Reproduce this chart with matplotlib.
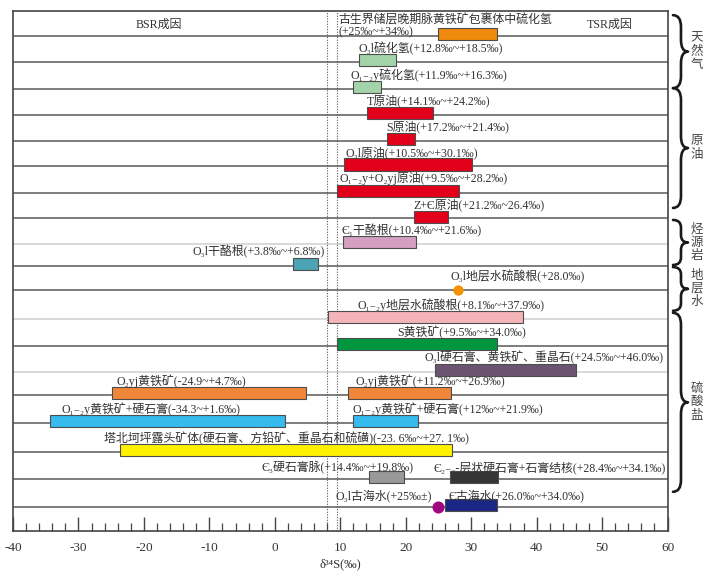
import matplotlib.pyplot as plt
import numpy as np
from matplotlib.path import Path
from matplotlib.patches import PathPatch
from matplotlib.ticker import MultipleLocator

plt.rcParams['font.family'] = ['Liberation Serif', 'DejaVu Serif', 'Noto Sans CJK SC']

# ---- data ----
labels = [
    '古生界储层晚期脉黄铁矿包裹体中硫化氢\n(+25‰~+34‰)',
    'O₃l硫化氢(+12.8‰~+18.5‰)',
    'O₁₋₂y硫化氢(+11.9‰~+16.3‰)',
    'T原油(+14.1‰~+24.2‰)',
    'S原油(+17.2‰~+21.4‰)',
    'O₃l原油(+10.5‰~+30.1‰)',
    'O₁₋₂y+O₂yj原油(+9.5‰~+28.2‰)',
    'Z+Є原油(+21.2‰~26.4‰)',
    'Є₁干酪根(+10.4‰~+21.6‰)',
    'O₃l干酪根(+3.8‰~+6.8‰)',
    'O₃l地层水硫酸根(+28.0‰)',
    'O₁₋₂y地层水硫酸根(+8.1‰~+37.9‰)',
    'S黄铁矿(+9.5‰~+34.0‰)',
    'O₃l硬石膏、黄铁矿、重晶石(+24.5‰~+46.0‰)',
    'O₂yj黄铁矿(-24.9~+4.7‰)',
    'O₂yj黄铁矿(+11.2‰~+26.9‰)',
    'O₁₋₂y黄铁矿+硬石膏(-34.3~+1.6‰)',
    'O₁₋₂y黄铁矿+硬石膏(+12‰~+21.9‰)',
    '塔北坷坪露头矿体(硬石膏、方铅矿、重晶石和硫磺)(-23. 6‰~+27. 1‰)',
    'Є₃硬石膏脉(+14.4‰~+19.8‰)',
    'Є₂₋₃-层状硬石膏+石膏结核(+28.4‰~+34.1‰)',
    'O₃l古海水(+25‰±)',
    'Є古海水(+26.0‰~+34.0‰)',
]
lo = [25, 12.8, 11.9, 14.1, 17.2, 10.5, 9.5, 21.2, 10.4, 2.8, 28.0, 8.1, 9.5,
      24.5, -24.9, 11.2, -34.3, 12, -23.6, 14.4, 26.7, 25.0, 26.0]
hi = [34, 18.5, 16.3, 24.2, 21.4, 30.1, 28.2, 26.4, 21.6, 6.6, 28.0, 37.9, 34.0,
      46.0, 4.7, 26.9, 1.6, 21.9, 27.1, 19.8, 34.1, 25.0, 34.0]
row = [0, 1, 2, 3, 4, 5, 6, 7, 8, 9, 10, 11, 12, 13, 14, 14, 15, 15, 16, 17, 17, 18, 18]
is_dot = [False] * 23
is_dot[10] = True
is_dot[21] = True
colors = ['#f08a0c', '#a3d4a9', '#a3d4a9', '#e3001b', '#e3001b', '#e3001b', '#e3001b',
          '#e3001b', '#d49fc0', '#4ba4b4', '#f39200', '#f5b4b8', '#00963f', '#6b5470',
          '#ef8638', '#ef8638', '#35bbed', '#35bbed', '#fff100', '#999999', '#353535',
          '#a0067f', '#1b2785']

groups = ['天然气', '原油', '烃源岩', '地层水', '硫酸盐']

# ---- layout ----
row_pos = [0, 1.0, 2.01, 3.02, 4.0, 4.98, 5.99, 6.97, 7.95, 8.79, 9.71, 10.81,
           11.85, 12.84, 13.72, 14.79, 15.9, 16.93, 18.0]
light_rows = [8, 11, 13]
label_x = [9.7, 12.76, 11.49, 14.04, 17.1, 10.73, 9.85, 21.16, 10.22, 7.67, 26.77,
           12.6, 18.72, 22.8, -24.16, 12.4, -32.56, 11.9, -26.1, -2.0, 24.2, 9.2, 26.5]
group_span = [(-0.8, 1.99), (1.99, 6.57), (7.03, 8.75), (8.83, 10.5), (10.58, 17.42)]

fig = plt.figure(figsize=(7.21, 5.71), dpi=100)
ax = fig.add_axes([13 / 721, 1 - 531 / 571, 654.5 / 721, (531 - 10.7) / 571])
ax.set_xlim(-40, 60)
ax.set_ylim(18.92, -0.97)

for i, y in enumerate(row_pos):
    c = '#cfcfcf' if i in light_rows else '#5a5a5a'
    ax.axhline(y, color=c, lw=1.1, zorder=1)

for xv in (8, 9.5):
    ax.axvline(xv, color='#555555', lw=0.8, ls=(0, (1, 1.4)), zorder=1)

for k in range(len(labels)):
    y = row_pos[row[k]]
    if is_dot[k]:
        s = 55 if k == 10 else 75
        ax.scatter([lo[k]], [y], s=s, color=colors[k], zorder=4, linewidths=0)
    else:
        ax.barh(y - 0.07, hi[k] - lo[k], left=lo[k], height=0.46, color=colors[k],
                edgecolor='#4d4d4d', lw=0.8, zorder=3)
    if k == 0:
        ax.text(label_x[k], y - 0.36, labels[k], fontsize=8.6, color='#333333',
                va='center', ha='left', linespacing=0.95, zorder=5)
    else:
        dy = 0.42 if row[k] >= 17 else 0.53
        ha = 'right' if k == 9 else 'left'
        ax.text(label_x[k], y - dy, labels[k], fontsize=8.6, color='#333333',
                va='center', ha=ha, zorder=5)

ax.text(-17.7, -0.42, 'BSR成因', fontsize=8.6, color='#333333', ha='center', va='center')
ax.text(51.2, -0.42, 'TSR成因', fontsize=8.6, color='#333333', ha='center', va='center')


def draw_brace(ax, y0, y1, xe=60.84, xs=62.06, xt=63.13):
    ym = (y0 + y1) / 2
    r = min(0.45, (y1 - y0) / 6)
    verts = [(xe, y0), (xs, y0), (xs, y0 + r),
             (xs, ym - r), (xs, ym), (xt, ym),
             (xs, ym), (xs, ym + r),
             (xs, y1 - r), (xs, y1), (xe, y1)]
    codes = [Path.MOVETO, Path.CURVE3, Path.CURVE3,
             Path.LINETO, Path.CURVE3, Path.CURVE3,
             Path.CURVE3, Path.CURVE3,
             Path.LINETO, Path.CURVE3, Path.CURVE3]
    ax.add_patch(PathPatch(Path(verts, codes), fill=False, lw=1.9, color='#1a1a1a',
                           clip_on=False, capstyle='round', joinstyle='round'))


for g, (y0, y1) in zip(groups, group_span):
    draw_brace(ax, y0, y1)
    ax.text(64.46, (y0 + y1) / 2, '\n'.join(g), fontsize=9, color='#444444',
            ha='center', va='center', linespacing=1.15, clip_on=False)

ax.set_yticks([])
ax.xaxis.set_major_locator(MultipleLocator(10))
ax.xaxis.set_minor_locator(MultipleLocator(2))
ax.tick_params(axis='x', which='major', direction='in', length=10, width=1.0,
               color='#444444', labelsize=9.5, labelcolor='#333333', pad=8)
ax.tick_params(axis='x', which='minor', direction='in', length=5.8, width=0.9,
               color='#444444')
ax.set_xticklabels([str(int(v)) for v in ax.get_xticks()])
ax.set_xlabel('δ³⁴S(‰)', fontsize=9, color='#333333', labelpad=3)
for sp in ax.spines.values():
    sp.set_color('#444444')
    sp.set_linewidth(1.2)

fig.savefig('out.png', dpi=100)
